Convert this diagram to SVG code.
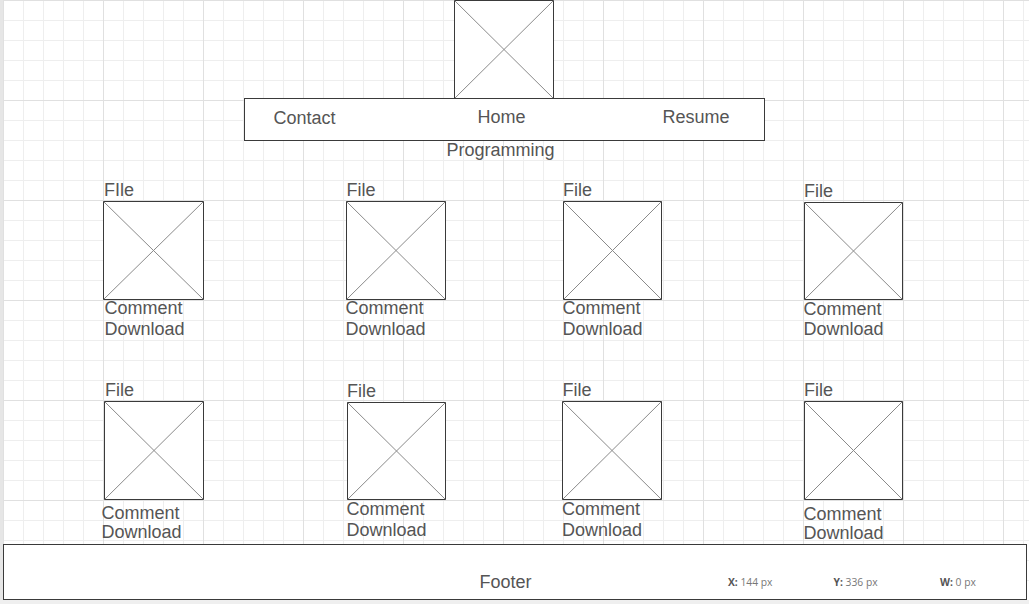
<svg xmlns="http://www.w3.org/2000/svg" width="1029" height="604" viewBox="0 0 1029 604">
<style>
.box{fill:#fff;stroke:#3a3a3a;stroke-width:1}
.x{stroke:#8a8a8a;stroke-width:1;fill:none}
.t{font-family:"Liberation Sans",Arial,sans-serif;font-size:18px;fill:#555}
.s{font-family:"Open Sans","DejaVu Sans",sans-serif;font-size:10.3px;fill:#777}
.sb{font-weight:bold;fill:#555}
</style>
<defs>
<pattern id="minor" x="3" y="0" width="20" height="20" patternUnits="userSpaceOnUse">
<path d="M0.5 0V20M0 0.5H20" stroke="#eeeeee" stroke-width="1" fill="none"/>
</pattern>
<pattern id="major" x="3" y="0" width="100" height="100" patternUnits="userSpaceOnUse">
<path d="M0.5 0V100M0 0.5H100" stroke="#e0e0e0" stroke-width="1" fill="none"/>
</pattern>
</defs>
<rect x="0" y="0" width="1029" height="604" fill="#fff"/>
<rect x="3" y="0" width="1026" height="600" fill="url(#minor)"/>
<rect x="3" y="0" width="1026" height="600" fill="url(#major)"/>
<rect x="0" y="0" width="3" height="604" fill="#e6e6e6"/>
<rect x="0" y="600" width="1029" height="4" fill="#efefef"/>

<g id="connectors"/>

<g id="logo">
<rect class="box" x="454.5" y="0.5" width="99" height="98"/>
<path class="x" d="M454.5 0.5L553.5 98.5M553.5 0.5L454.5 98.5"/>
</g>
<g id="nav">
<rect class="box" x="244.5" y="98.5" width="520" height="42"/>
<text class="t" x="273.5" y="124">Contact</text>
<text class="t" x="477.5" y="123">Home</text>
<text class="t" x="662.5" y="123">Resume</text>
</g>
<g id="title">
<text class="t" x="446.5" y="156">Programming</text>
</g>

<g id="file1">
<text class="t" x="104" y="196">FIle</text>
<rect class="box" x="103.5" y="201.5" width="100" height="98"/>
<path class="x" d="M103.5 201.5L203.5 299.5M203.5 201.5L103.5 299.5"/>
<text class="t" x="104.5" y="314">Comment</text>
<text class="t" x="104.5" y="335">Download</text>
</g>
<g id="file2">
<text class="t" x="346.5" y="196">File</text>
<rect class="box" x="346.5" y="201.5" width="99" height="98"/>
<path class="x" d="M346.5 201.5L445.5 299.5M445.5 201.5L346.5 299.5"/>
<text class="t" x="345.5" y="314">Comment</text>
<text class="t" x="345.5" y="334.5">Download</text>
</g>
<g id="file3">
<text class="t" x="563" y="196">File</text>
<rect class="box" x="563.5" y="201.5" width="98" height="98"/>
<path class="x" d="M563.5 201.5L661.5 299.5M661.5 201.5L563.5 299.5"/>
<text class="t" x="562.5" y="314">Comment</text>
<text class="t" x="562.5" y="334.5">Download</text>
</g>
<g id="file4">
<text class="t" x="804" y="197">File</text>
<rect class="box" x="804.5" y="202.5" width="98" height="97"/>
<path class="x" d="M804.5 202.5L902.5 299.5M902.5 202.5L804.5 299.5"/>
<text class="t" x="803.5" y="315">Comment</text>
<text class="t" x="803.5" y="335">Download</text>
</g>

<g id="file5">
<text class="t" x="105" y="396">File</text>
<rect class="box" x="104.5" y="401.5" width="99" height="98"/>
<path class="x" d="M104.5 401.5L203.5 499.5M203.5 401.5L104.5 499.5"/>
<text class="t" x="101.5" y="519">Comment</text>
<text class="t" x="101.5" y="538">Download</text>
</g>
<g id="file6">
<text class="t" x="347" y="397">File</text>
<rect class="box" x="347.5" y="402.5" width="98" height="97"/>
<path class="x" d="M347.5 402.5L445.5 499.5M445.5 402.5L347.5 499.5"/>
<text class="t" x="346.5" y="515">Comment</text>
<text class="t" x="346.5" y="536">Download</text>
</g>
<g id="file7">
<text class="t" x="562.5" y="396">File</text>
<rect class="box" x="562.5" y="401.5" width="99" height="98"/>
<path class="x" d="M562.5 401.5L661.5 499.5M661.5 401.5L562.5 499.5"/>
<text class="t" x="562" y="515">Comment</text>
<text class="t" x="562" y="536">Download</text>
</g>
<g id="file8">
<text class="t" x="804" y="396">File</text>
<rect class="box" x="804.5" y="401.5" width="98" height="98"/>
<path class="x" d="M804.5 401.5L902.5 499.5M902.5 401.5L804.5 499.5"/>
<text class="t" x="803.5" y="520">Comment</text>
<text class="t" x="803.5" y="539">Download</text>
</g>

<g id="footer">
<rect class="box" x="3.5" y="544.5" width="1023" height="55"/>
<text class="t" x="479.5" y="588">Footer</text>
<text class="s" x="728" y="585.5"><tspan class="sb">X:</tspan> 144 px</text>
<text class="s" x="833.5" y="585.5"><tspan class="sb">Y:</tspan> 336 px</text>
<text class="s" x="940" y="585.5"><tspan class="sb">W:</tspan> 0 px</text>
</g>
</svg>
